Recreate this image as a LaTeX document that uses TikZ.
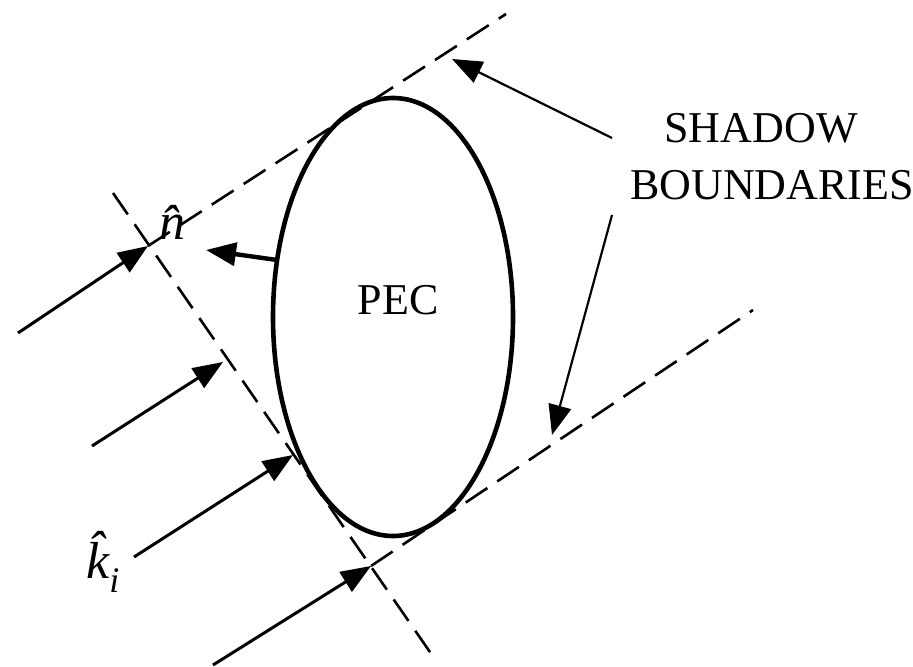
\documentclass[tikz,border=0pt]{standalone}
\usepackage{fontspec}
\setmainfont{Liberation Serif}
\usetikzlibrary{arrows.meta,shapes.geometric}

\begin{document}
\begin{tikzpicture}[
  x=0.5pt,y=-0.5pt,
  font=\fontsize{22}{27}\selectfont,
  >={Triangle[length=15pt,width=11.5pt]},
  ray/.style={->,line width=1.5pt},
  bnd/.style={line width=1.3pt,dash pattern=on 13pt off 6pt},
  ptr/.style={->,line width=1.1pt},
  body/.style={draw,ellipse,line width=2.3pt,inner sep=0pt,
               minimum width=120pt,minimum height=219pt},
  lbl/.style={inner sep=0pt,anchor=base},
  sym/.style={inner sep=0pt,font=\fontsize{26}{30}\selectfont\itshape},
]
  \useasboundingbox (0,0) rectangle (913,667);

  % scatterer
  \node[body] (pec) at (393,317) {};
  \node[lbl] (pectxt) at (398,315) {PEC};

  % incident wavefront and shadow boundaries
  \coordinate (wtop) at (113,193);
  \coordinate (wbot) at (432,655);
  \coordinate (sb1a) at (148,246);
  \coordinate (sb1b) at (506,14);
  \coordinate (sb2a) at (371,566);
  \coordinate (sb2b) at (753,310);
  \draw[bnd] (wtop) -- (wbot);
  \draw[bnd] (sb1a) -- (sb1b);
  \draw[bnd] (sb2a) -- (sb2b);

  % incident rays
  \coordinate (t1) at (18,333);
  \coordinate (t2) at (92,446);
  \coordinate (t3) at (134,557);
  \coordinate (t4) at (213,665);
  \coordinate (h2) at (223,362);
  \coordinate (h3) at (293,455);
  \draw[ray] (t1) -- (sb1a);
  \draw[ray] (t2) -- (h2);
  \draw[ray] (t3) -- (h3);
  \draw[ray] (t4) -- (sb2a);

  % surface normal
  \coordinate (nfoot) at (277,260);
  \coordinate (ntip) at (206,250);
  \draw[->,line width=2.2pt] (nfoot) -- (ntip);
  \node[sym,anchor=base] (nlbl) at (172,240) {n̂};
  \node[sym,anchor=base west] (klbl) at (86,578)
    {k̂\raisebox{-0.28em}{\fontsize{18}{20}\selectfont i}};

  % shadow boundary labels
  \node[lbl] (shd) at (761,143) {SHADOW};
  \node[lbl] (bnds) at (772,200) {BOUNDARIES};
  \coordinate (p1) at (612,138);
  \coordinate (p2) at (612,215);
  \coordinate (q1) at (452,59);
  \coordinate (q2) at (552,435);
  \draw[ptr] (p1) -- (q1);
  \draw[ptr] (p2) -- (q2);
\end{tikzpicture}
\end{document}
